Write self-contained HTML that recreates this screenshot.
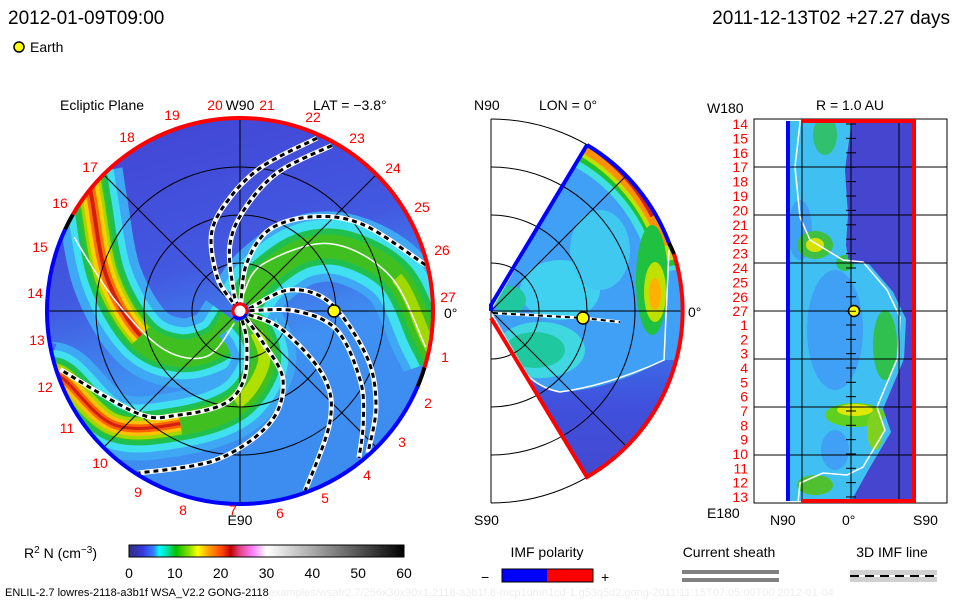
<!DOCTYPE html>
<html><head><meta charset="utf-8"><style>
body{margin:0;background:#fff;}
svg{display:block;font-family:"Liberation Sans",sans-serif;}
.t{font-size:14px;fill:#000}
.r{font-size:14px;fill:#f00}
</style></head><body>
<svg id="s" width="960" height="600" viewBox="0 0 960 600">
<defs>
<linearGradient id="cb" x1="0" x2="1" y1="0" y2="0">
<stop offset="0" stop-color="#303080"/><stop offset="0.05" stop-color="#3838e0"/><stop offset="0.09" stop-color="#3080ff"/><stop offset="0.11" stop-color="#00ffff"/><stop offset="0.14" stop-color="#00e0a0"/><stop offset="0.17" stop-color="#00c000"/><stop offset="0.22" stop-color="#90e000"/><stop offset="0.25" stop-color="#ffff00"/><stop offset="0.29" stop-color="#ffa000"/><stop offset="0.34" stop-color="#ff4000"/><stop offset="0.37" stop-color="#c00000"/><stop offset="0.40" stop-color="#e04080"/><stop offset="0.45" stop-color="#ff80ff"/><stop offset="0.50" stop-color="#ffffff"/><stop offset="1" stop-color="#000000"/>
</linearGradient>
<linearGradient id="lbg" x1="0" x2="0.3" y1="0" y2="1">
<stop offset="0" stop-color="#4242d2"/><stop offset="0.45" stop-color="#4258e0"/><stop offset="0.7" stop-color="#3f90f2"/><stop offset="1" stop-color="#3d8cf0"/>
</linearGradient>
<linearGradient id="mdk" x1="0" x2="0" y1="0" y2="1">
<stop offset="0" stop-color="#3a78ec"/><stop offset="0.4" stop-color="#4050dc"/><stop offset="1" stop-color="#4545c8"/>
</linearGradient>
<clipPath id="lc"><circle cx="240" cy="311" r="193"/></clipPath>
<clipPath id="mc"><path d="M491,311 L587,145 A192,192 0 0 1 587,477 Z"/></clipPath>
<clipPath id="rc"><rect x="786" y="121" width="128" height="380"/></clipPath>
</defs>

<text x="8" y="24" style="font-size:19px">2012-01-09T09:00</text>
<text x="950" y="24" text-anchor="end" style="font-size:19px">2011-12-13T02 +27.27 days</text>
<circle cx="19" cy="47" r="5" fill="#ff0" stroke="#000" stroke-width="1.5"/>
<text x="30" y="52" class="t">Earth</text>

<!-- left panel -->
<g>
<text x="60" y="110" class="t">Ecliptic Plane</text>
<text x="313" y="110" class="t">LAT = −3.8°</text>
<circle cx="240" cy="311" r="193" fill="url(#lbg)"/>
<g id="lbands" clip-path="url(#lc)"></g>
<g id="lgrid" fill="none" stroke="#000" stroke-width="1"></g>
<g id="llines"></g>
<g id="lrim" fill="none" stroke-width="4"></g>
<circle cx="240" cy="311" r="7" fill="#fff" stroke="#f00" stroke-width="3"/>
<path d="M246,314 A7,7 0 0 1 234,316" fill="none" stroke="#00f" stroke-width="3"/>
<circle cx="334" cy="311" r="6" fill="#ff0" stroke="#000" stroke-width="1.5"/>
<g id="llabels"></g>
</g>

<!-- middle panel -->
<g>
<text x="474" y="110" class="t">N90</text>
<text x="539" y="110" class="t">LON = 0°</text>
<text x="474" y="525" class="t">S90</text>
<text x="688" y="317" class="t">0°</text>
<path d="M491,311 L587,145 A192,192 0 0 1 587,477 Z" fill="#3fa0f5"/>
<g clip-path="url(#mc)">
<ellipse cx="560" cy="290" rx="40" ry="30" fill="#40d0f0"/>
<ellipse cx="600" cy="250" rx="30" ry="40" fill="#40c8f0"/>
<ellipse cx="540" cy="350" rx="45" ry="28" fill="#40d8e0"/>
<ellipse cx="535" cy="350" rx="30" ry="18" fill="#20c8a0"/>
<ellipse cx="510" cy="300" rx="16" ry="14" fill="#20c8a0"/>
<path d="M500,330 Q520,385 560,392 Q610,390 664,360 L700,360 L700,520 L491,520 Z" fill="url(#mdk)"/>
<path d="M587,145 A175,175 0 0 1 675,270" fill="none" stroke="#40e0e0" stroke-width="50"/>
<path d="M587,145 A180,180 0 0 1 675,265" fill="none" stroke="#20c030" stroke-width="36"/>
<path d="M587,145 A184,184 0 0 1 672,260" fill="none" stroke="#c0e000" stroke-width="26"/>
<path d="M587,145 A186,186 0 0 1 668,245" fill="none" stroke="#ff9000" stroke-width="18"/>
<path d="M600,150 A188,188 0 0 1 655,215" fill="none" stroke="#d02020" stroke-width="10"/>
<ellipse cx="652" cy="280" rx="16" ry="55" fill="#20c040"/>
<ellipse cx="655" cy="292" rx="11" ry="30" fill="#c0e000"/>
<ellipse cx="655" cy="294" rx="6" ry="16" fill="#ffb000"/>
<path d="M669,250 L664,360 Q610,385 560,392 Q520,385 500,330" fill="none" stroke="#fff" stroke-width="1.5"/>
</g>
<g fill="none" stroke="#000" stroke-width="1" id="mgrid"></g>
<path d="M587,145 L491,305 L491,311" fill="none" stroke="#00f" stroke-width="4"/>
<path d="M587,145 A192,192 0 0 1 669,243" fill="none" stroke="#00f" stroke-width="4"/>
<path d="M669,243 A192,192 0 0 1 674,254" fill="none" stroke="#000" stroke-width="4"/>
<path d="M674,254 A192,192 0 0 1 587,477 L491,318" fill="none" stroke="#f00" stroke-width="4"/>
<path d="M493,313 L583,318 L620,322" fill="none" stroke="#fff" stroke-width="3"/>
<path d="M493,313 L583,318 L620,322" fill="none" stroke="#000" stroke-width="2" stroke-dasharray="5,4"/>
<circle cx="583" cy="318" r="6" fill="#ff0" stroke="#000" stroke-width="1.5"/>
</g>

<!-- right panel -->
<g>
<text x="850" y="110" class="t" text-anchor="middle">R = 1.0 AU</text>
<text x="707" y="113" class="t">W180</text>
<text x="707" y="518" class="t">E180</text>
<text x="770" y="525" class="t">N90</text>
<text x="842" y="525" class="t">0°</text>
<text x="913" y="525" class="t">S90</text>
<rect x="754" y="119" width="193" height="384" fill="#fff" stroke="#000" stroke-width="1"/>
<g clip-path="url(#rc)">
<rect x="786" y="119" width="130" height="384" fill="#40c0f2"/>
<ellipse cx="835" cy="330" rx="28" ry="60" fill="#3fa0f5"/>
<ellipse cx="800" cy="230" rx="12" ry="30" fill="#3fa0f5"/>
<ellipse cx="835" cy="450" rx="14" ry="20" fill="#3fa0f5"/>
<ellipse cx="825" cy="135" rx="12" ry="20" fill="#30c070"/>
<ellipse cx="815" cy="245" rx="18" ry="14" fill="#40c040"/>
<ellipse cx="815" cy="245" rx="9" ry="7" fill="#d8e000"/>
<ellipse cx="845" cy="263" rx="9" ry="8" fill="#30c050"/>
<ellipse cx="885" cy="345" rx="12" ry="35" fill="#30c050"/>
<ellipse cx="855" cy="415" rx="30" ry="12" fill="#60d020"/>
<ellipse cx="855" cy="410" rx="18" ry="6" fill="#e0e800"/>
<ellipse cx="875" cy="430" rx="8" ry="20" fill="#80d020"/>
<ellipse cx="815" cy="485" rx="18" ry="10" fill="#50c030"/>
<path id="rdark" fill="#4545d0"/>
<path id="rwhite" fill="none" stroke="#fff" stroke-width="1.5"/>
</g>
<g id="rgrid" stroke="#000" stroke-width="1"></g>
<line x1="788" y1="121" x2="788" y2="501" stroke="#00f" stroke-width="4"/>
<path d="M801,121 H914 V501 H801" fill="none" stroke="#f00" stroke-width="4"/>
<circle cx="854" cy="311" r="5.5" fill="#ff0" stroke="#000" stroke-width="1.5"/>
<g id="rlabels"></g>
</g>

<!-- colorbar -->
<g>
<text x="24" y="558" class="t">R<tspan dy="-5" font-size="10">2</tspan><tspan dy="5"> N (cm</tspan><tspan dy="-5" font-size="10">−3</tspan><tspan dy="5">)</tspan></text>
<rect x="129" y="545" width="275" height="12" fill="url(#cb)" stroke="#000" stroke-width="1"/>
<g id="cbticks"></g>
</g>
<text x="5" y="596" style="font-size:11px">ENLIL-2.7 lowres-2118-a3b1f WSA_V2.2 GONG-2118<tspan fill="#eeeeee">examples/wsafr2.7/256x30x90x1.2118-a3b1f.8-mcp1umn1cd-1.g53q5d2.gong-2011:11:15T07:05:00T00    2012-01-04</tspan></text>

<!-- legends -->
<g>
<text x="547" y="557" class="t" text-anchor="middle">IMF polarity</text>
<text x="481" y="582" class="t">−</text>
<rect x="502" y="569" width="45" height="13" fill="#00f"/>
<rect x="547" y="569" width="46" height="13" fill="#f00"/>
<rect x="502" y="569" width="91" height="13" fill="none" stroke="#000"/>
<text x="601" y="582" class="t">+</text>
</g>
<g>
<text x="729" y="557" class="t" text-anchor="middle">Current sheath</text>
<rect x="682" y="570" width="97" height="4" fill="#808080"/>
<rect x="682" y="578" width="97" height="4" fill="#808080"/>
</g>
<g>
<text x="892" y="557" class="t" text-anchor="middle">3D IMF line</text>
<rect x="850" y="570" width="87" height="12" fill="#d0d0d0"/>
<line x1="850" y1="576" x2="937" y2="576" stroke="#fff" stroke-width="2"/>
<line x1="850" y1="576" x2="937" y2="576" stroke="#000" stroke-width="2" stroke-dasharray="9,6"/>
</g>
</svg>
<script>
var NS="http://www.w3.org/2000/svg";
var CX=240,CY=311,R=193;
// band centerlines: [r fraction, angle deg]
var bandA=[[1.15,135],[1.06,138],[0.96,143],[0.71,166],[0.53,194],[0.38,215],[0.21,234],[0.06,240],[0.02,240]];
var bandB=[[1.12,195],[1.06,198],[0.98,201],[0.88,222],[0.66,242],[0.48,268],[0.30,294],[0.14,307],[0.04,310],[0.02,310]];
var bandC=[[1.12,-20],[1.05,-14],[0.97,-8],[0.83,12],[0.64,30],[0.45,44],[0.21,56],[0.05,60],[0.02,60]];
var whiteA=[[1.0,152],[0.94,156],[0.64,176],[0.44,207],[0.29,234],[0.07,245],[0.03,245]];
var whiteC=[[1.02,-13],[0.98,-11],[0.80,13],[0.58,37],[0.27,64],[0.08,80],[0.04,80]];
var dashed=[
[[1.02,64],[0.98,66],[0.76,81],[0.59,95],[0.43,110],[0.21,124],[0.05,130],[0.03,130]],
[[1.02,59],[0.98,61],[0.74,75],[0.52,88],[0.34,99],[0.11,108],[0.04,110],[0.03,110]],
[[1.01,13],[0.99,14],[0.78,35],[0.62,52],[0.45,70],[0.25,82],[0.04,85],[0.03,85]],
[[0.03,10],[0.05,15],[0.28,23],[0.47,5],[0.70,-20],[0.86,-35],[0.99,-48],[1.01,-50]],
[[0.03,0],[0.05,2],[0.29,0],[0.51,-11],[0.72,-30],[0.86,-42],[0.98,-51],[1.0,-52]],
[[0.03,-50],[0.05,-52],[0.20,-54],[0.42,-58],[0.60,-75],[0.78,-99],[0.99,-122],[1.01,-124]],
[[0.03,-75],[0.05,-76],[0.17,-78],[0.36,-87],[0.49,-100],[0.63,-121],[0.75,-135],[0.98,-162],[1.0,-164]],
[[0.03,-20],[0.05,-22],[0.24,-24],[0.55,-38],[0.74,-51],[0.99,-70],[1.01,-71]]
];
var labelNums=["1","2","3","4","5","6","7","8","9","10","11","12","13","14","15","16","17","18","19","20","21","22","23","24","25","26","27"];
var labelPos=[[445,357],[428,403],[402,442],[367,475],[325,498],[280,513],[233,510],[183,510],[138,492],[100,463],[67,428],[45,387],[37,340],[35,293],[40,247],[60,203],[90,167],[127,137],[172,115],[215,105],[267,105],[313,117],[357,138],[393,168],[422,207],[442,250],[448,297]];
var rLabels=["14","15","16","17","18","19","20","21","22","23","24","25","26","27","1","2","3","4","5","6","7","8","9","10","11","12","13"];
var cbTicks=[0,10,20,30,40,50,60];

function pt(p,cx,cy,rr){var a=p[1]*Math.PI/180;return [cx+p[0]*rr*Math.cos(a),cy-p[0]*rr*Math.sin(a)];}
function smooth(pts){
  var P=pts.map(function(p){return pt(p,CX,CY,R);});
  var d="M"+P[1][0].toFixed(1)+","+P[1][1].toFixed(1);
  for(var i=1;i<P.length-2;i++){
    var p0=P[i-1],p1=P[i],p2=P[i+1],p3=P[i+2];
    var c1=[p1[0]+(p2[0]-p0[0])/6,p1[1]+(p2[1]-p0[1])/6];
    var c2=[p2[0]-(p3[0]-p1[0])/6,p2[1]-(p3[1]-p1[1])/6];
    d+=" C"+c1[0].toFixed(1)+","+c1[1].toFixed(1)+" "+c2[0].toFixed(1)+","+c2[1].toFixed(1)+" "+p2[0].toFixed(1)+","+p2[1].toFixed(1);
  }
  return d;
}
function mk(tag,parent,attrs){var e=document.createElementNS(NS,tag);for(var k in attrs)e.setAttribute(k,attrs[k]);parent.appendChild(e);return e;}

var lb=document.getElementById("lbands");
function band(data,name,layers){
  var d=smooth(data);
  layers.forEach(function(L){
    var e=mk("path",lb,{d:d,fill:"none",stroke:L[0],"stroke-width":L[1]});
    
    
  });
}
band(bandA,"band-a",[["#3fa8f5",70],["#40e0f0",52],["#20c050",38],["#40c020",28]]);
band(bandB,"band-b",[["#3fa8f5",64],["#40e0f0",48],["#20c050",34],["#40c020",24]]);
band(bandC,"band-c",[["#3fa8f5",70],["#40e0f0",54],["#20c050",36],["#40c020",24]]);
band(bandA.slice(0,6),"band-a-core",[["#a0d800",24],["#ffd000",18],["#ff7000",10],["#d02010",4]]);
band(bandB.slice(0,6),"band-b-core",[["#a0d800",22],["#ffc000",15],["#ff6000",8],["#d02010",3]]);
band(bandB.slice(4,9),"band-b-inner",[["#b0e000",12]]);
band(bandC.slice(0,5),"band-c-core",[["#a0d800",12]]);
[whiteA,whiteC].forEach(function(w,i){
  var e=mk("path",lb,{d:smooth(w),fill:"none",stroke:"#fff","stroke-width":1.5});
  
  
});

var lg=document.getElementById("lgrid");
[48,96,144].forEach(function(r){
  var c=mk("circle",lg,{cx:CX,cy:CY,r:r});
  
  
});
[0,45,90,135].forEach(function(a){
  var p=pt([1,a],CX,CY,R),q=pt([1,a+180],CX,CY,R);
  var l=mk("line",lg,{x1:p[0],y1:p[1],x2:q[0],y2:q[1]});
  
  
});

var ll=document.getElementById("llines");
dashed.forEach(function(dd,i){
  var d=smooth(dd);
  var w=mk("path",ll,{d:d,fill:"none",stroke:"#fff","stroke-width":5});
  
  
  var b=mk("path",ll,{d:d,fill:"none",stroke:"#000","stroke-width":3,"stroke-dasharray":"5,4"});
  
  
});

var rim=document.getElementById("lrim");
function arc(a1,a2,col,name){
  var p=pt([1,a1],CX,CY,R),q=pt([1,a2],CX,CY,R);
  var large=Math.abs(a2-a1)>180?1:0;
  var e=mk("path",rim,{d:"M"+p[0]+","+p[1]+" A"+R+","+R+" 0 "+large+" 0 "+q[0]+","+q[1],stroke:col});
  
  
}
arc(-17,150,"#f00","polarity-arc-positive");
arc(150,155,"#000","polarity-arc-neutral");
arc(155,337,"#00f","polarity-arc-negative");
arc(337,343,"#000","polarity-arc-neutral-2");

var lab=document.getElementById("llabels");
labelNums.forEach(function(n,i){
  var t=mk("text",lab,{x:labelPos[i][0],y:labelPos[i][1]+5,"text-anchor":"middle","class":"r"});
  t.textContent=n;
  
  
});
var w90=mk("text",lab,{x:240,y:110,"text-anchor":"middle","class":"t"});w90.textContent="W90";


var e90=mk("text",lab,{x:240,y:525,"text-anchor":"middle","class":"t"});e90.textContent="E90";


var z0=mk("text",lab,{x:444,y:318,"class":"t"});z0.textContent="0°";



// middle grid
var mg=document.getElementById("mgrid");
[48,96,144,192].forEach(function(r){
  var e=mk("path",mg,{d:"M491,"+(311-r)+" A"+r+","+r+" 0 0 1 491,"+(311+r)});
  
  
});
[[491,119,491,503],[491,311,681,311],[491,311,625,177],[491,311,625,445]].forEach(function(l){
  var e=mk("line",mg,{x1:l[0],y1:l[1],x2:l[2],y2:l[3]});
  
  
});

// right panel
var cont=[[800,119],[800,123],[795,167],[800,217],[810,240],[843,260],[863,262],[887,290],[900,317],[898,357],[877,407],[885,430],[863,467],[847,475],[823,473],[800,483],[798,503]];
var dw="M"+cont.map(function(p){return p[0]+","+p[1];}).join(" L");
document.getElementById("rwhite").setAttribute("d",dw);
var dk=cont.slice(5,13);
document.getElementById("rdark").setAttribute("d","M852,119 L845,170 L848,215 L846,245 L"+dk.map(function(p){return (p[0]+6)+","+(p[1]+2);}).join(" L")+" L850,503 L916,503 L916,119 Z");
var rg=document.getElementById("rgrid");
[802,851,899].forEach(function(x){
  var e=mk("line",rg,{x1:x,y1:119,x2:x,y2:503});
  
  
});
[167,215,263,311,359,407,455].forEach(function(y){
  var e=mk("line",rg,{x1:754,y1:y,x2:947,y2:y});
  
  
});
var rl=document.getElementById("rlabels");
rLabels.forEach(function(n,i){
  var y=i<14?124+i*14.4:325+(i-14)*14.33;
  var t=mk("text",rl,{x:748,y:y+5,"text-anchor":"end","class":"r"});
  t.textContent=n;
  
  
  var k=mk("line",rl,{x1:846,y1:y,x2:856,y2:y,stroke:"#000"});
  
  
});

// colorbar ticks
var cbt=document.getElementById("cbticks");
cbTicks.forEach(function(v){
  var x=129+v/60*275;
  var t=mk("text",cbt,{x:x,y:578,"text-anchor":"middle","class":"t"});
  t.textContent=v;
  
  
});
</script>
</body></html>
